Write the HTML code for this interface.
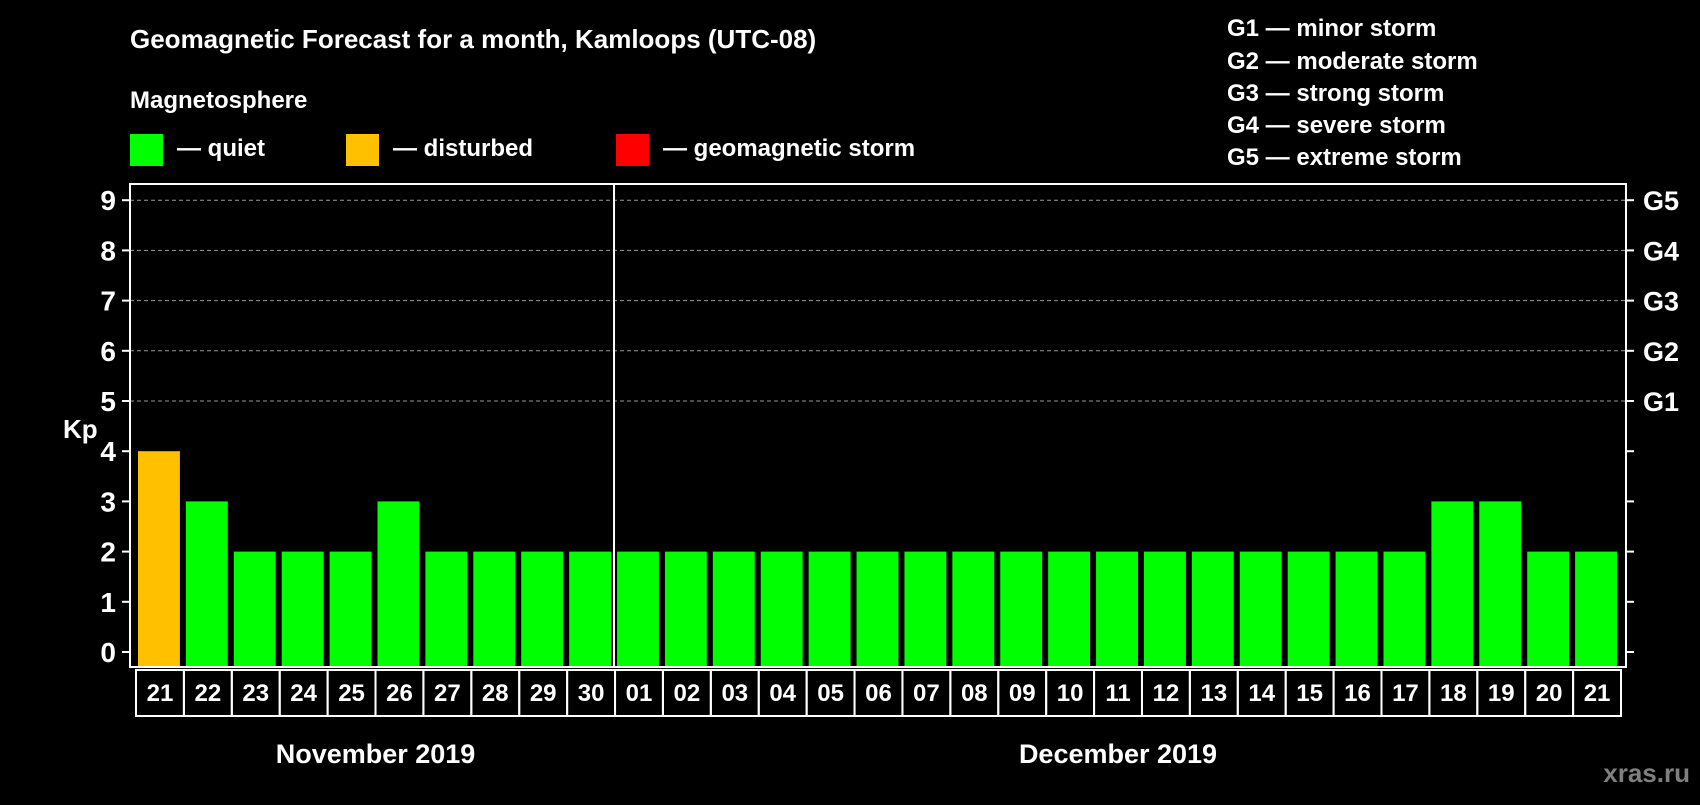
<!DOCTYPE html>
<html><head><meta charset="utf-8"><style>
body{margin:0;background:#000;width:1700px;height:800px;overflow:hidden;font-family:"Liberation Sans",sans-serif;font-weight:bold;color:#fff}
</style></head><body>
<svg width="1700" height="800" xmlns="http://www.w3.org/2000/svg" font-family="Liberation Sans, sans-serif" font-weight="bold">
<rect width="1700" height="800" fill="#000"/>
<text x="130" y="48" font-size="26" fill="#fff">Geomagnetic Forecast for a month, Kamloops (UTC-08)</text>
<text x="130" y="108" font-size="24" fill="#fff">Magnetosphere</text>
<g><rect x="130" y="134" width="33" height="32" fill="#00ff00"/><text x="177" y="156" font-size="24" fill="#fff">— quiet</text></g>
<g><rect x="346" y="134" width="33" height="32" fill="#ffc000"/><text x="393" y="156" font-size="24" fill="#fff">— disturbed</text></g>
<g><rect x="616" y="134" width="33" height="32" fill="#ff0000"/><text x="663" y="156" font-size="24" fill="#fff">— geomagnetic storm</text></g>
<g font-size="24" fill="#fff">
<text x="1227" y="36">G1 — minor storm</text>
<text x="1227" y="69">G2 — moderate storm</text>
<text x="1227" y="101">G3 — strong storm</text>
<text x="1227" y="133">G4 — severe storm</text>
<text x="1227" y="165">G5 — extreme storm</text>
</g>
<text x="63" y="438" font-size="26" fill="#fff">Kp</text>
<g id="chart"></g>
<text x="1690" y="782" font-size="26" fill="#7f7f7f" text-anchor="end">xras.ru</text>
</svg>
<script>
const days=["21","22","23","24","25","26","27","28","29","30","01","02","03","04","05","06","07","08","09","10","11","12","13","14","15","16","17","18","19","20","21"];
const kp=[4,3,2,2,2,3,2,2,2,2,2,2,2,2,2,2,2,2,2,2,2,2,2,2,2,2,2,3,3,2,2];
const yTicks=[0,1,2,3,4,5,6,7,8,9];
const gLabels=[[5,"G1"],[6,"G2"],[7,"G3"],[8,"G4"],[9,"G5"]];
const months=[["November 2019",0,9],["December 2019",10,30]];
const NS="http://www.w3.org/2000/svg";
const g=document.getElementById('chart');
const L=130,R=1626,T=184,B=667,X0=136,XW=1621-136;
const y=v=>652-v*50.2;
const pitch=XW/days.length;
const x=i=>X0+i*pitch;
function mk(t,a,p){const e=document.createElementNS(NS,t);for(const k in a)e.setAttribute(k,a[k]);(p||g).appendChild(e);return e;}
yTicks.forEach(v=>{
 if(v>=5){const ln=mk('line',{x1:L,x2:R,y1:y(v),y2:y(v),stroke:'#999','stroke-dasharray':'4,3','stroke-width':1});
 
 }
 mk('line',{x1:L-8,x2:L,y1:y(v),y2:y(v),stroke:'#fff','stroke-width':2});
 mk('line',{x1:R,x2:R+8,y1:y(v),y2:y(v),stroke:'#fff','stroke-width':2});
 const t=mk('text',{x:L-14,y:y(v)+10,'font-size':28,fill:'#fff','text-anchor':'end'});t.textContent=v;
 
 
});
gLabels.forEach(([v,s])=>{const t=mk('text',{x:1643,y:y(v)+10,'font-size':27,fill:'#fff'});t.textContent=s;
 
 });
kp.forEach((v,i)=>{
 const col=v>=5?'#ff0000':(v>=4?'#ffc000':'#00ff00');
 const r=mk('rect',{x:x(i)+2,y:y(v),width:pitch-6,height:B-1-y(v),fill:col});
 
 
 const b=mk('rect',{x:x(i),y:670,width:pitch,height:46,fill:'none',stroke:'#fff','stroke-width':2});
 const t=mk('text',{x:x(i)+pitch/2,y:701,'font-size':24,fill:'#fff','text-anchor':'middle'});t.textContent=days[i];
 
 
});
mk('rect',{x:L,y:T,width:R-L,height:B-T,fill:'none',stroke:'#fff','stroke-width':2});
mk('line',{x1:x(10)-1,x2:x(10)-1,y1:T,y2:B,stroke:'#fff','stroke-width':2});
months.forEach(([s,a,b])=>{const t=mk('text',{x:(x(a)+x(b+1))/2,y:763,'font-size':27,fill:'#fff','text-anchor':'middle'});t.textContent=s;
 
 });
</script>
</body></html>
